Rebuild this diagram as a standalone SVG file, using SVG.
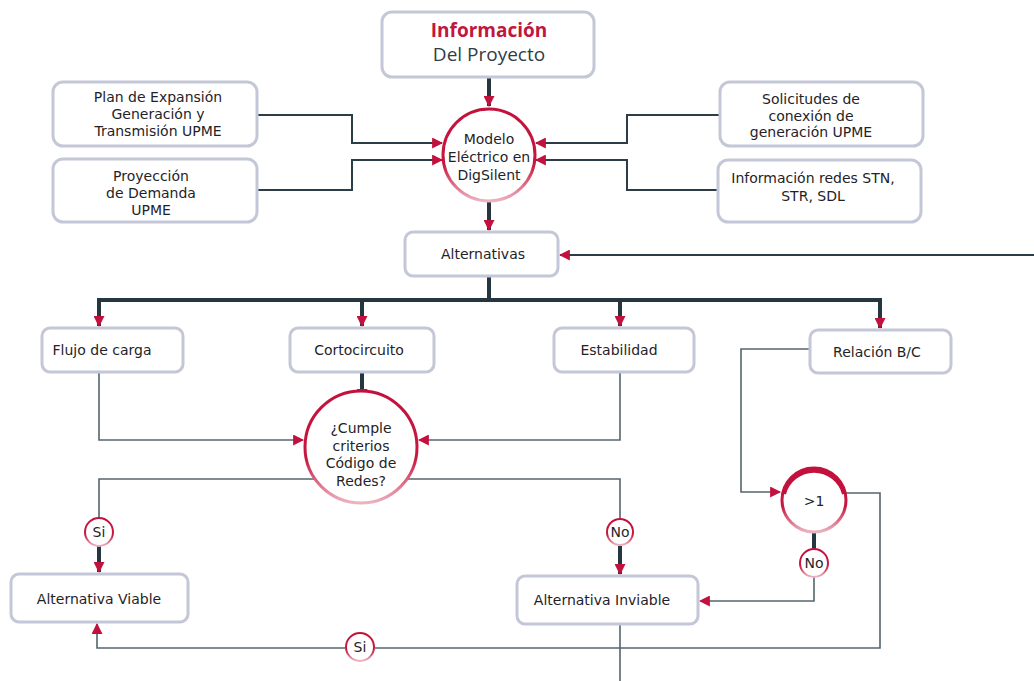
<svg xmlns="http://www.w3.org/2000/svg" width="1034" height="681" viewBox="0 0 1034 681">
<style>
.box{fill:#fff;stroke:#c4c7d7;stroke-width:3}
.t{font-family:"DejaVu Sans","Open Sans",sans-serif;font-size:14px;fill:#1f2328;text-anchor:middle}
.thick{fill:none;stroke:#263640;stroke-width:4}
.thin{fill:none;stroke:#55646e;stroke-width:1.6}
.dark{fill:none;stroke:#2d3d47;stroke-width:2}
.circ{fill:#fff;stroke:url(#cg);stroke-width:3}
.sc{fill:#fff;stroke:url(#cg);stroke-width:2}
</style>
<defs>
<linearGradient id="cg" x1="0" y1="0" x2="0" y2="1">
<stop offset="0" stop-color="#c3113d"/>
<stop offset="0.6" stop-color="#c8173f"/>
<stop offset="1" stop-color="#ecb3c0"/>
</linearGradient>
<marker id="ar" viewBox="0 0 10 10" refX="9" refY="5" markerWidth="11" markerHeight="11" markerUnits="userSpaceOnUse" orient="auto">
<path d="M0,0 L10,5 L0,10 Z" fill="#c3113d"/>
</marker>
</defs>
<g id="connectors">
<path class="thick" d="M489,77 V106" marker-end="url(#ar)"/>
<path class="dark" d="M257,115 H352 V143 H442" marker-end="url(#ar)"/>
<path class="dark" d="M257,190 H352 V160 H442" marker-end="url(#ar)"/>
<path class="dark" d="M720,115 H627 V143 H536" marker-end="url(#ar)"/>
<path class="dark" d="M718,190 H627 V160 H536" marker-end="url(#ar)"/>
<path class="thick" d="M489,202 V230" marker-end="url(#ar)"/>
<path class="dark" d="M1034,255 H560" marker-end="url(#ar)"/>
<path class="thick" d="M489,276 V300 M99,300 H880"/>
<path class="thick" d="M99,298 V326" marker-end="url(#ar)"/>
<path class="thick" d="M362,298 V326" marker-end="url(#ar)"/>
<path class="thick" d="M620,298 V326" marker-end="url(#ar)"/>
<path class="thick" d="M880,298 V328" marker-end="url(#ar)"/>
<path class="thick" d="M362,372 V399" marker-end="url(#ar)"/>
<path class="thin" d="M99,372 V440 H303" marker-end="url(#ar)" stroke="#7d8990"/>
<path class="thin" d="M620,372 V440 H419" marker-end="url(#ar)" stroke="#7d8990"/>
<path class="thin" d="M318,479 H99 V518"/>
<path class="thick" d="M99,546 V572" marker-end="url(#ar)"/>
<path class="thin" d="M405,479 H620 V518"/>
<path class="thick" d="M620,546 V574" marker-end="url(#ar)"/>
<path class="thin" d="M810,349 H741 V492 H780" marker-end="url(#ar)"/>
<path class="thick" d="M814,532 V549"/>
<path class="thin" d="M814,577 V601 H700" marker-end="url(#ar)"/>
<path class="thin" d="M846,493 H880 V648 H375 M345,648 H97 V624" marker-end="url(#ar)"/>
<path class="thin" d="M620,624 V681" stroke="#9aa3aa"/>
</g>
<g id="info"><rect class="box" x="382" y="12" width="212" height="65" rx="10"/>
<text x="489" y="37" font-family="'Open Sans','Liberation Sans',sans-serif" font-size="19" font-weight="700" fill="#c0163f" text-anchor="middle">Información</text>
<text x="489" y="61" font-family="'Open Sans','Liberation Sans',sans-serif" font-size="19" fill="#2f3d47" text-anchor="middle">Del Proyecto</text></g>
<g id="plan"><rect class="box" x="53" y="82" width="204" height="64" rx="10"/>
<text class="t" x="158" y="102">Plan de Expansión</text><text class="t" x="158" y="119">Generación y</text><text class="t" x="158" y="136">Transmisión UPME</text></g>
<g id="proy"><rect class="box" x="53" y="159" width="204" height="63" rx="10"/>
<text class="t" x="151" y="181">Proyección</text><text class="t" x="151" y="198">de Demanda</text><text class="t" x="151" y="215">UPME</text></g>
<g id="soli"><rect class="box" x="720" y="82" width="203" height="64" rx="10"/>
<text class="t" x="811" y="104">Solicitudes de</text><text class="t" x="811" y="121">conexión de</text><text class="t" x="811" y="137">generación UPME</text></g>
<g id="redes"><rect class="box" x="718" y="160" width="203" height="62" rx="10"/>
<text class="t" x="813" y="183">Información redes STN,</text><text class="t" x="813" y="201">STR, SDL</text></g>
<g id="modelo"><circle class="circ" cx="489" cy="155" r="46"/>
<text class="t" x="489" y="144">Modelo</text><text class="t" x="489" y="162">Eléctrico en</text><text class="t" x="489" y="180">DigSilent</text></g>
<g id="alt"><rect class="box" x="405" y="232" width="153" height="44" rx="8"/>
<text class="t" x="483" y="259">Alternativas</text></g>
<g id="flujo"><rect class="box" x="42" y="328" width="141" height="44" rx="8"/><text class="t" x="102" y="355">Flujo de carga</text></g>
<g id="corto"><rect class="box" x="290" y="328" width="144" height="44" rx="8"/><text class="t" x="359" y="355">Cortocircuito</text></g>
<g id="estab"><rect class="box" x="554" y="328" width="140" height="44" rx="8"/><text class="t" x="619" y="355">Estabilidad</text></g>
<g id="relacion"><rect class="box" x="810" y="330" width="141" height="43" rx="8"/><text class="t" x="877" y="357">Relación B/C</text></g>
<g id="cumple"><circle class="circ" cx="361" cy="447" r="56"/>
<text class="t" x="361" y="433">¿Cumple</text><text class="t" x="361" y="451">criterios</text><text class="t" x="361" y="468">Código de</text><text class="t" x="361" y="486">Redes?</text></g>
<g id="mayor"><circle class="circ" cx="814" cy="500" r="32"/><path d="M784,494 A31,31 0 0 1 844,494" fill="none" stroke="#c3113d" stroke-width="4"/>
<text class="t" x="814" y="506">&gt;1</text></g>
<g id="si1"><circle class="sc" cx="99" cy="532" r="14"/><text class="t" x="99" y="537">Si</text></g>
<g id="no1"><circle class="sc" cx="620" cy="532" r="13"/><text class="t" x="620" y="537" fill="#2f3d47">No</text></g>
<g id="no2"><circle class="sc" cx="814" cy="563" r="14"/><text class="t" x="814" y="568">No</text></g>
<g id="si2"><circle class="sc" cx="360" cy="647" r="14"/><text class="t" x="360" y="652">Si</text></g>
<g id="viable"><rect class="box" x="11" y="574" width="177" height="48" rx="8"/><text class="t" x="99" y="604">Alternativa Viable</text></g>
<g id="inviable"><rect class="box" x="517" y="576" width="181" height="48" rx="8"/><text class="t" x="602" y="605">Alternativa Inviable</text></g>
</svg>
